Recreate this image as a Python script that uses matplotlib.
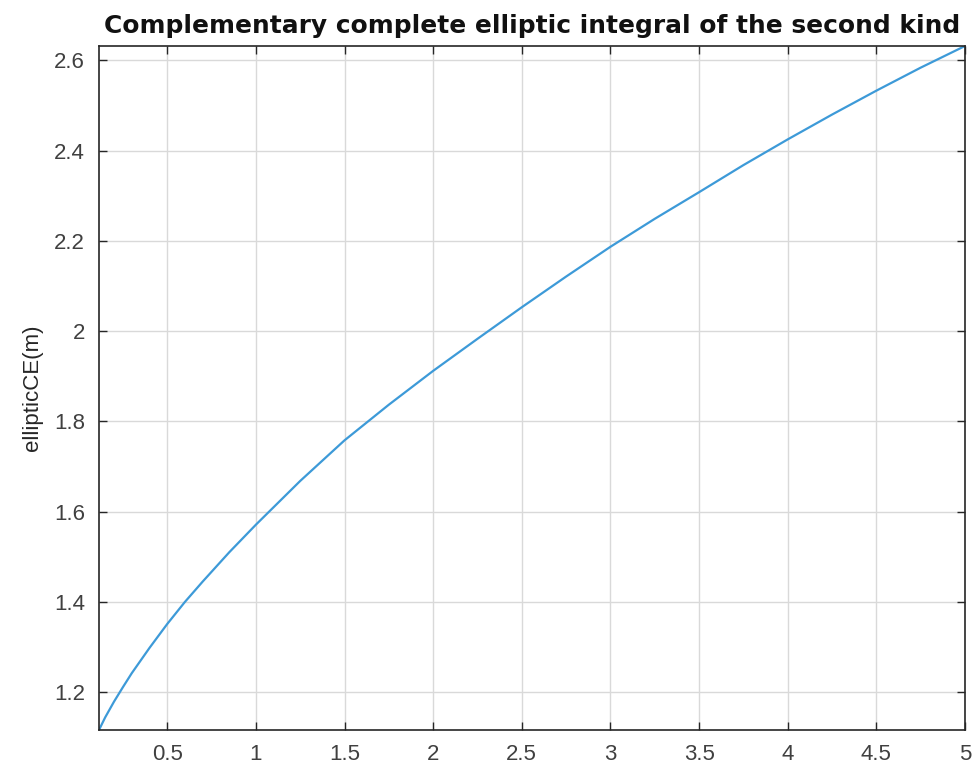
import numpy as np
import matplotlib
matplotlib.use("Agg")
import matplotlib.pyplot as plt

# values
m_vals = [0.115, 0.15, 0.2, 0.25, 0.3, 0.4, 0.5, 0.6, 0.7, 0.85, 1.0, 1.25, 1.5, 1.75, 2.0,
          2.25, 2.5, 2.75, 3.0, 3.25, 3.5, 3.75, 4.0, 4.25, 4.5, 4.75, 5.0]
ce_vals = [1.116, 1.144, 1.179, 1.211, 1.242, 1.298, 1.351, 1.400, 1.445, 1.510, 1.571, 1.668,
           1.758, 1.837, 1.912, 1.983, 2.053, 2.121, 2.187, 2.249, 2.308, 2.368, 2.425,
           2.480, 2.533, 2.584, 2.632]

x_ticks = [0.5, 1, 1.5, 2, 2.5, 3, 3.5, 4, 4.5, 5]
x_labels = ["0.5", "1", "1.5", "2", "2.5", "3", "3.5", "4", "4.5", "5"]
y_ticks = [1.2, 1.4, 1.6, 1.8, 2.0, 2.2, 2.4, 2.6]
y_labels = ["1.2", "1.4", "1.6", "1.8", "2", "2.2", "2.4", "2.6"]

plt.rcParams['font.family'] = ['Liberation Sans', 'DejaVu Sans']

fig = plt.figure(figsize=(9.74, 7.74), dpi=100)
ax = fig.add_axes([0.1016, 0.0568, 0.8892, 0.8838])

ax.plot(m_vals, ce_vals, color='#3d9ad8', linewidth=1.6)

ax.set_xlim(m_vals[0], m_vals[-1])
ax.set_ylim(ce_vals[0], ce_vals[-1])
ax.set_xticks(x_ticks)
ax.set_xticklabels(x_labels)
ax.set_yticks(y_ticks)
ax.set_yticklabels(y_labels)

axcol = '#262626'
ax.tick_params(direction='in', length=6, width=1, colors=axcol, labelcolor='#404040',
               labelsize=16, top=True, right=True, pad=10)
for sp in ax.spines.values():
    sp.set_color(axcol)
    sp.set_linewidth(1.2)

ax.grid(True, color='#d9d9d9', linewidth=1)
ax.set_axisbelow(True)

ax.set_ylabel("ellipticCE(m)", fontsize=16, color='#262626', labelpad=8)
ax.set_title("Complementary complete elliptic integral of the second kind",
             fontsize=17.9, fontweight='bold', color='#111111', pad=9,
             family=['DejaVu Sans'])

fig.savefig("out.png", dpi=100)
